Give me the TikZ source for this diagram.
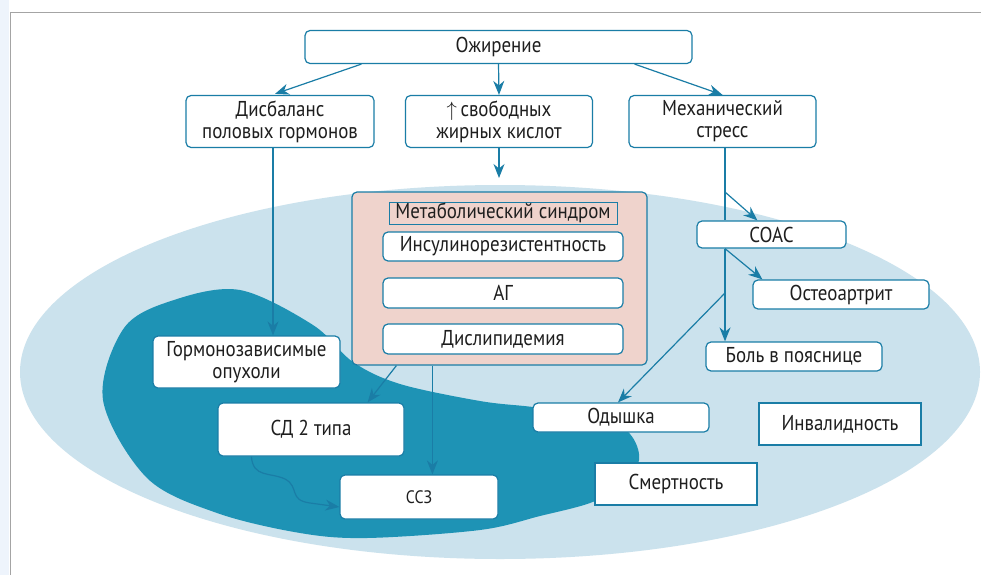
\documentclass[tikz,border=0pt]{standalone}
\usepackage{fontspec}
\setmainfont{PT Sans}[FakeStretch=0.88]
\usetikzlibrary{arrows.meta,calc}
\definecolor{strk}{HTML}{1A7DA6}
\definecolor{dark}{HTML}{1E93B5}
\definecolor{light}{HTML}{CBE2ED}
\definecolor{pinkf}{HTML}{EFD3CC}
\definecolor{framec}{HTML}{A4A4A4}
\definecolor{strip}{HTML}{EEF4FC}
\definecolor{txt}{HTML}{1E1E1E}
\tikzset{
  box/.style={draw=strk, fill=white, rounded corners=5pt, line width=1.2pt, align=center, inner sep=0pt, text=txt, font=\fontsize{21.5}{22}\selectfont},
  sqbox/.style={box, rounded corners=0pt},
  conn/.style={draw=strk, line width=1.2pt},
  arr/.style={conn, -{Stealth[length=14pt,width=11pt,inset=4.5pt]}},
}
\newcommand{\bx}[5]{\node[#1, minimum width=#4pt, minimum height=#5pt] (#2) at (#3) }
\begin{document}
\begin{tikzpicture}[x=1pt,y=1pt]
\useasboundingbox (0,0) rectangle (981,-575);
\fill[white] (0,0) rectangle (981,-575);
\fill[strip] (0,0) rectangle (9,-575);
\draw[framec, line width=1.6pt] (10.5,-575) -- (10.5,-12.5) -- (981,-12.5);
\fill[light] (500,-372) ellipse [x radius=480, y radius=187];
\fill[dark] plot[smooth cycle, tension=0.55] coordinates {
    (240,-290) (313,-325) (353,-362) (400,-384) (480,-401) (533,-407) (600,-416)
    (630,-434) (639,-460) (622,-486) (590,-503) (540,-516) (480,-530) (367,-538)
    (300,-533) (217,-513) (147,-478) (103,-400) (124,-328) (174,-300)};

\bx{box}{ozh}{498.5,-47}{387}{33} {Ожирение};
\bx{box}{dis}{280,-121.5}{188}{52} {Дисбаланс\\половых гормонов};
\bx{box}{svo}{499,-121.5}{187}{52} {$\uparrow$\,свободных\\жирных кислот};
\bx{box}{mech}{722.5,-121.5}{187}{52} {Механический\\стресс};
\bx{box,fill=pinkf}{met}{499.5,-278.5}{295}{173} {};
\bx{sqbox,fill=pinkf,line width=1pt}{mett}{503,-213}{228}{22} {Метаболический синдром};
\bx{box}{ins}{503,-246.5}{240}{29} {Инсулинорезистентность};
\bx{box}{ag}{503,-293}{240}{30} {АГ};
\bx{box}{dlp}{503,-339}{240}{30} {Дислипидемия};
\bx{box}{gor}{246.5,-362}{187}{52} {Гормонозависимые\\опухоли};
\bx{box}{sd}{311,-429.5}{186}{53} {СД 2 типа};
\bx{box}{ss3}{419,-497}{158}{44} {\fontsize{18}{20}\selectfont ССЗ};
\bx{box}{soac}{771.5,-234.5}{149}{27} {СОАС};
\bx{box}{ost}{841,-294.5}{176}{29} {Остеоартрит};
\bx{box}{bol}{794,-356.5}{176}{29} {Боль в пояснице};
\bx{box}{ody}{621,-417.5}{176}{29} {Одышка};
\bx{sqbox}{inv}{840,-424}{162}{42} {Инвалидность};
\bx{sqbox}{smr}{676,-484}{162}{42} {Смертность};

\coordinate (metin) at (499,-178);
\coordinate (m1) at (725,-192);
\coordinate (m2) at (725,-293);
\coordinate (d1) at ($(dis.south)+(-7,0)$);
\coordinate (h1) at ($(mech.south)+(2.5,0)$);
\coordinate (k1) at ($(met.south west)+(81,0)$);

\draw[arr] ($(ozh.south west)+(57,0)$) -- ($(dis.north)+(-5,1)$);
\draw[arr] (ozh.south) -- (svo.north);
\draw[arr] ($(ozh.south east)+(-58,0)$) -- (mech.north);
\draw[arr] (d1) -- (d1 |- gor.north);
\draw[arr] (svo.south) -- (metin);
\draw[conn] (h1) -- (h1 |- soac.north);
\draw[arr] (h1 |- soac.south) -- (h1 |- bol.north);
\draw[arr] (m1) -- ($(soac.north west)+(61,0)$);
\draw[arr] (h1 |- soac.south) -- ($(ost.north west)+(10,0)$);
\draw[arr] (m2) -- ($(ody.north)+(-3,0)$);
\draw[arr] ($(met.south west)+(45,0)$) -- ($(sd.north east)+(-37,0)$);
\draw[arr] (k1) -- (k1 |- ss3.north);
\draw[arr] ($(sd.south west)+(34,0)$) .. controls (253,-478) and (270,-472) .. (285,-479)
   .. controls (300,-487) and (288,-500) .. (310,-503) -- ($(ss3.west)+(0,-10)$);
\end{tikzpicture}
\end{document}
